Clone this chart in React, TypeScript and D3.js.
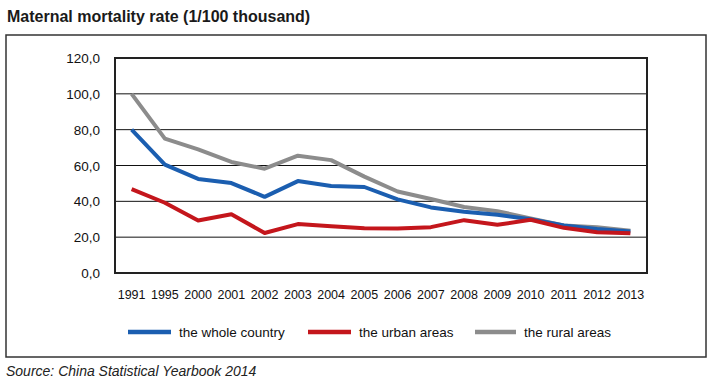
import React from "react";
import * as d3 from "d3";

const years = ["1991","1995","2000","2001","2002","2003","2004","2005","2006","2007","2008","2009","2010","2011","2012","2013"];
const wholeCountry = [80.0, 60.5, 52.5, 50.2, 42.5, 51.3, 48.6, 48.0, 41.1, 36.6, 34.2, 32.5, 30.0, 26.5, 24.5, 23.2];
const urbanAreas = [46.8, 39.2, 29.3, 32.8, 22.3, 27.3, 26.1, 25.0, 24.8, 25.6, 29.5, 26.9, 29.7, 25.2, 22.8, 22.2];
const ruralAreas = [100.0, 75.0, 69.0, 62.0, 58.2, 65.5, 63.0, 53.8, 45.5, 41.3, 36.8, 34.5, 30.5, 26.5, 25.6, 23.6];
const yTicks = [0, 20, 40, 60, 80, 100, 120];

const seriesNames = ["the whole country", "the urban areas", "the rural areas"];
const seriesColors = ["#1b5eb0", "#c4161c", "#8c8c8c"];

export default function App() {
  const W = 715, H = 382;
  const left = 115, right = 647, top = 58, bottom = 273;
  const x = d3.scaleBand().domain(years).range([left, right]);
  const y = d3.scaleLinear().domain([0, 120]).range([bottom, top]);
  const line = d3.line<number>()
    .x((_, i) => (x(years[i]) as number) + x.bandwidth() / 2)
    .y((d) => y(d));
  const data = [wholeCountry, urbanAreas, ruralAreas];
  const font = "'Liberation Sans', Arial, sans-serif";
  const legendX = [128, 308, 475];
  const legendLen = [43, 43, 41];
  return (
    <svg width={W} height={H} style={{ position: "absolute", left: 0, top: 0, background: "#fff" }} fontFamily={font}>
      <text x={7} y={22} fontSize={16} fontWeight="bold" fill="#1a1a1a">Maternal mortality rate (1/100 thousand)</text>
      <rect x={6} y={35} width={700} height={322} fill="none" stroke="#333" strokeWidth={1.5} />
      {yTicks.map((t) => (
        <g key={t}>
          {t > 0 && t < 120 && (
            <line x1={left} x2={right} y1={y(t)} y2={y(t)} stroke="#111" strokeWidth={1} />
          )}
          <text x={left - 15} y={y(t) + 5} fontSize={13.5} textAnchor="end" fill="#111">{t.toFixed(1).replace(".", ",")}</text>
        </g>
      ))}
      <rect x={left} y={top} width={right - left} height={bottom - top} fill="none" stroke="#222" strokeWidth={2} />
      {years.map((yr) => (
        <text key={yr} x={(x(yr) as number) + x.bandwidth() / 2} y={299} fontSize={12.5} textAnchor="middle" fill="#111">{yr}</text>
      ))}
      {[2, 0, 1].map((k) => (
        <path key={k} d={line(data[k]) || ""} fill="none" stroke={seriesColors[k]} strokeWidth={4} strokeLinejoin="round" />
      ))}
      {seriesNames.map((n, k) => (
        <g key={n}>
          <line x1={legendX[k]} x2={legendX[k] + legendLen[k]} y1={332} y2={332} stroke={seriesColors[k]} strokeWidth={4.5} />
          <text x={legendX[k] + legendLen[k] + 8} y={337} fontSize={13.5} fill="#111">{n}</text>
        </g>
      ))}
      <text x={6} y={376} fontSize={14} fontStyle="italic" fill="#222">Source: China Statistical Yearbook 2014</text>
    </svg>
  );
}
